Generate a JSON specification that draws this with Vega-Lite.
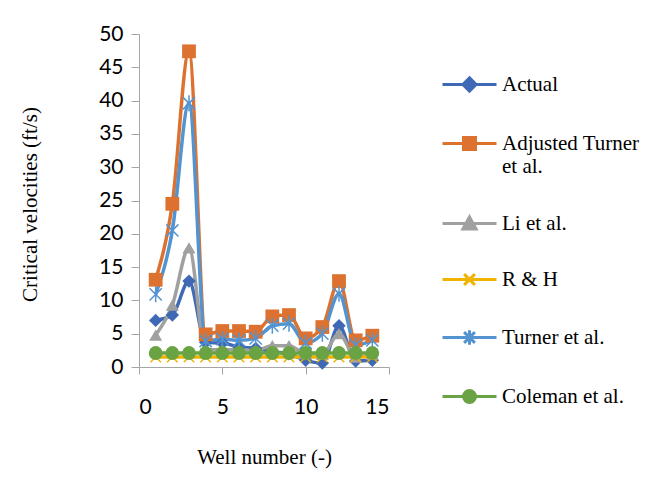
{
  "$schema": "https://vega.github.io/schema/vega-lite/v6.json",
  "autosize": {"type": "none"},
  "width": 250,
  "height": 333,
  "padding": {"left": 139, "top": 34, "right": 275, "bottom": 132},
  "background": "white",
  "config": {
    "view": {"stroke": null},
    "axis": {"grid": false, "domainColor": "#A6A6A6", "tickColor": "#A6A6A6", "labelColor": "#000000", "titleColor": "#000000", "labelFont": "Lato", "labelFontSize": 21, "titleFont": "Liberation Serif", "titleFontSize": 21, "titleFontWeight": "normal"}
  },
  "data": {
    "values": [
      {"well": 1, "series": "Actual", "v": 7.0}, {"well": 2, "series": "Actual", "v": 7.8}, {"well": 3, "series": "Actual", "v": 12.9}, {"well": 4, "series": "Actual", "v": 3.7}, {"well": 5, "series": "Actual", "v": 3.6}, {"well": 6, "series": "Actual", "v": 3.0}, {"well": 7, "series": "Actual", "v": 2.8}, {"well": 8, "series": "Actual", "v": 2.3}, {"well": 9, "series": "Actual", "v": 2.0}, {"well": 10, "series": "Actual", "v": 1.0}, {"well": 11, "series": "Actual", "v": 0.6}, {"well": 12, "series": "Actual", "v": 6.2}, {"well": 13, "series": "Actual", "v": 0.9}, {"well": 14, "series": "Actual", "v": 1.0},
      {"well": 1, "series": "Adjusted Turner et al.", "v": 13.1}, {"well": 2, "series": "Adjusted Turner et al.", "v": 24.5}, {"well": 3, "series": "Adjusted Turner et al.", "v": 47.4}, {"well": 4, "series": "Adjusted Turner et al.", "v": 4.9}, {"well": 5, "series": "Adjusted Turner et al.", "v": 5.4}, {"well": 6, "series": "Adjusted Turner et al.", "v": 5.4}, {"well": 7, "series": "Adjusted Turner et al.", "v": 5.3}, {"well": 8, "series": "Adjusted Turner et al.", "v": 7.6}, {"well": 9, "series": "Adjusted Turner et al.", "v": 7.8}, {"well": 10, "series": "Adjusted Turner et al.", "v": 4.3}, {"well": 11, "series": "Adjusted Turner et al.", "v": 6.0}, {"well": 12, "series": "Adjusted Turner et al.", "v": 12.9}, {"well": 13, "series": "Adjusted Turner et al.", "v": 4.0}, {"well": 14, "series": "Adjusted Turner et al.", "v": 4.7},
      {"well": 1, "series": "Li et al.", "v": 4.8}, {"well": 2, "series": "Li et al.", "v": 9.3}, {"well": 3, "series": "Li et al.", "v": 17.9}, {"well": 4, "series": "Li et al.", "v": 2.6}, {"well": 5, "series": "Li et al.", "v": 2.6}, {"well": 6, "series": "Li et al.", "v": 2.6}, {"well": 7, "series": "Li et al.", "v": 2.5}, {"well": 8, "series": "Li et al.", "v": 3.2}, {"well": 9, "series": "Li et al.", "v": 3.2}, {"well": 10, "series": "Li et al.", "v": 2.0}, {"well": 11, "series": "Li et al.", "v": 1.9}, {"well": 12, "series": "Li et al.", "v": 5.0}, {"well": 13, "series": "Li et al.", "v": 1.5}, {"well": 14, "series": "Li et al.", "v": 1.9},
      {"well": 1, "series": "R & H", "v": 1.5}, {"well": 2, "series": "R & H", "v": 1.5}, {"well": 3, "series": "R & H", "v": 1.5}, {"well": 4, "series": "R & H", "v": 1.5}, {"well": 5, "series": "R & H", "v": 1.5}, {"well": 6, "series": "R & H", "v": 1.5}, {"well": 7, "series": "R & H", "v": 1.5}, {"well": 8, "series": "R & H", "v": 1.5}, {"well": 9, "series": "R & H", "v": 1.5}, {"well": 10, "series": "R & H", "v": 1.5}, {"well": 11, "series": "R & H", "v": 1.5}, {"well": 12, "series": "R & H", "v": 1.5}, {"well": 13, "series": "R & H", "v": 1.5}, {"well": 14, "series": "R & H", "v": 1.5},
      {"well": 1, "series": "Turner et al.", "v": 10.9}, {"well": 2, "series": "Turner et al.", "v": 20.5}, {"well": 3, "series": "Turner et al.", "v": 39.6}, {"well": 4, "series": "Turner et al.", "v": 3.9}, {"well": 5, "series": "Turner et al.", "v": 4.2}, {"well": 6, "series": "Turner et al.", "v": 4.0}, {"well": 7, "series": "Turner et al.", "v": 4.3}, {"well": 8, "series": "Turner et al.", "v": 6.2}, {"well": 9, "series": "Turner et al.", "v": 6.5}, {"well": 10, "series": "Turner et al.", "v": 3.6}, {"well": 11, "series": "Turner et al.", "v": 5.0}, {"well": 12, "series": "Turner et al.", "v": 11.0}, {"well": 13, "series": "Turner et al.", "v": 3.3}, {"well": 14, "series": "Turner et al.", "v": 4.0},
      {"well": 1, "series": "Coleman et al.", "v": 2.1}, {"well": 2, "series": "Coleman et al.", "v": 2.1}, {"well": 3, "series": "Coleman et al.", "v": 2.1}, {"well": 4, "series": "Coleman et al.", "v": 2.1}, {"well": 5, "series": "Coleman et al.", "v": 2.1}, {"well": 6, "series": "Coleman et al.", "v": 2.1}, {"well": 7, "series": "Coleman et al.", "v": 2.1}, {"well": 8, "series": "Coleman et al.", "v": 2.1}, {"well": 9, "series": "Coleman et al.", "v": 2.1}, {"well": 10, "series": "Coleman et al.", "v": 2.1}, {"well": 11, "series": "Coleman et al.", "v": 2.1}, {"well": 12, "series": "Coleman et al.", "v": 2.1}, {"well": 13, "series": "Coleman et al.", "v": 2.1}, {"well": 14, "series": "Coleman et al.", "v": 2.1}
    ]
  },
  "encoding": {
    "x": {"field": "well", "type": "quantitative", "scale": {"domain": [0, 15], "nice": false}, "axis": {"values": [0, 5, 10, 15], "title": "Well number (-)", "tickSize": 7, "labelPadding": 22, "titleY": 90, "titleBaseline": "middle"}},
    "y": {"field": "v", "type": "quantitative", "scale": {"domain": [0, 50], "nice": false}, "axis": {"values": [0, 5, 10, 15, 20, 25, 30, 35, 40, 45, 50], "title": "Critical velocities (ft/s)", "tickSize": 8, "labelPadding": 8, "titleX": -109, "titleY": 170, "titleAngle": -90, "titleAlign": "center", "titleBaseline": "middle"}},
    "color": {
      "field": "series", "type": "nominal",
      "scale": {"domain": ["Actual", "Adjusted Turner et al.", "Li et al.", "R & H", "Turner et al.", "Coleman et al."], "range": ["#3F69B5", "#DD7230", "#A0A0A0", "#F0B400", "#5394D0", "#6AA343"]},
      "legend": {
        "title": null, "orient": "none", "legendX": 320, "legendY": 40,
        "labelFont": "Liberation Serif", "labelFontSize": 21, "labelColor": "#000000", "labelLimit": 200,
        "symbolSize": 144, "labelOffset": 22, "rowPadding": 33,
        "labelExpr": "datum.label == 'Adjusted Turner et al.' ? ['Adjusted Turner', 'et al.'] : datum.label",
        "encode": {
          "symbols": {"update": {
            "shape": {"signal": "datum.value == 'Actual' ? 'M-4.5,0H4.5M0,-1.1L1.1,0L0,1.1L-1.1,0Z' : datum.value == 'Adjusted Turner et al.' ? 'M-4.5,0H4.5M-1,-1H1V1H-1Z' : datum.value == 'Li et al.' ? 'M-4.5,0H4.5M0,-1.1L1.1,0.9H-1.1Z' : datum.value == 'R & H' ? 'M-4.5,0H4.5M-0.9,-0.9L0.9,0.9M-0.9,0.9L0.9,-0.9' : datum.value == 'Turner et al.' ? 'M-4.5,0H4.5M-0.9,-0.9L0.9,0.9M-0.9,0.9L0.9,-0.9M0,-1.2V1.2' : 'M-4.5,0H4.5M1,0A1,1,0,1,1,-1,0A1,1,0,1,1,1,0Z'"},
            "size": {"value": 144},
            "strokeWidth": {"value": 3},
            "fill": {"scale": "color", "field": "value"},
            "stroke": {"scale": "color", "field": "value"},
            "opacity": {"value": 1},
            "fillOpacity": {"value": 1},
            "strokeOpacity": {"value": 1}
          }}
        }
      }
    }
  },
  "layer": [
    {"mark": {"type": "line", "interpolate": "monotone", "strokeWidth": 3.5}},
    {"transform": [{"filter": "datum.series == 'Actual'"}], "mark": {"type": "point", "shape": "diamond", "filled": true, "opacity": 1, "size": 180}},
    {"transform": [{"filter": "datum.series == 'Adjusted Turner et al.'"}], "mark": {"type": "point", "shape": "square", "filled": true, "opacity": 1, "size": 190}},
    {"transform": [{"filter": "datum.series == 'Li et al.'"}], "mark": {"type": "point", "shape": "triangle-up", "filled": true, "opacity": 1, "size": 170}},
    {"transform": [{"filter": "datum.series == 'R & H'"}], "mark": {"type": "point", "shape": "M-1,-1L1,1M-1,1L1,-1", "filled": false, "opacity": 1, "size": 110, "strokeWidth": 1.5}},
    {"transform": [{"filter": "datum.series == 'Turner et al.'"}], "mark": {"type": "point", "shape": "M-1,-1L1,1M-1,1L1,-1M0,-1.3V1.3", "filled": false, "opacity": 1, "size": 150, "strokeWidth": 1.5}},
    {"transform": [{"filter": "datum.series == 'Coleman et al.'"}], "mark": {"type": "point", "shape": "circle", "filled": true, "opacity": 1, "size": 190}}
  ]
}
